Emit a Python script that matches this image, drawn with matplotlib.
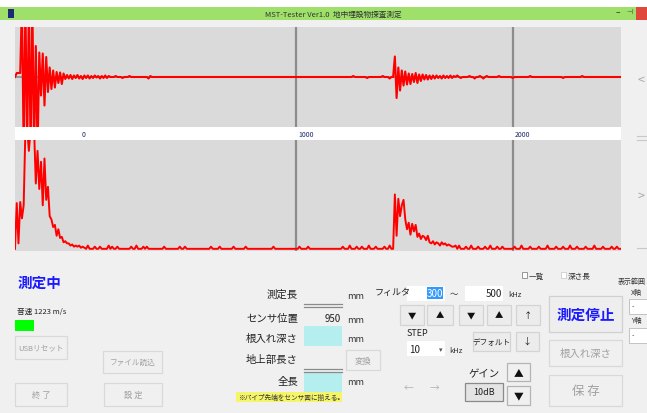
import numpy as np
import matplotlib
matplotlib.use("Agg")
import matplotlib.pyplot as plt
from matplotlib.patches import Rectangle

plt.rcParams['font.family'] = ['Noto Sans CJK JP', 'DejaVu Sans']

# sample grid of the traces (mm)
X_START, X_END, STEP = -295, 2500, 8
GRID_TICKS = [1000, 2000]
TICK_LABELS = ['0', '1000', '2000']
TICK_POS = [0, 1000, 2000]

# reflected waveform (upper trace)
upper_burst1_start = -290
upper_burst1 = [8, 8, 8, 150, -150, 150, -150, 150, -150, 150, -150, 62, -150, 49, -37,
                47, -57, 40, -30, 19, -24, 13, -21, 10, -12, 9, -14, 7, -4, 4, -3, 4, -4,
                3, -2, 4, -3, 2, -4, 3, -2, 3, -3, 2, -2, 3, -1, 2, -3, 2, -2, 3, -2, 2]
upper_burst2_start = 1456
upper_burst2 = [41, -42, 19, -27, 13, -17, 11, -15, 7, -14, 6, -10, 8, -12, 5, -8, 5, -5,
                4, -5, 3, -4, 3, -3, 3, -2, 2, -3, 3, -2, 2, -2, 3, -2, 2]
upper_blip_x = [170, 203, 235, 318, 327, 1263, 1332, 1401, 1433, 1742, 1765, 1802, 1829,
                1848, 1866, 1880, 1940, 2000, 2078, 2230, 2323]
upper_blip_y = [2, -2, 2, -3, 2, 2, -2, 2, -3, 3, -2, 2, -3, 2, -3, 2, 2, -2, 2, -2, 2]

# envelope (lower trace)
lower_burst1_start = -290
lower_burst1 = [42, 5, 43, 28, 40, 110, 110, 90, 110, 110, 110, 60, 90, 55, 80, 40, 83,
                45, 57, 30, 27, 20, 22, 12, 18, 10, 11, 6, 7, 5, 5, 3, 4, 2, 3, 2, 3, 1,
                2, 1]
lower_burst2_start = 1456
lower_burst2 = [50, 12, 46, 30, 40, 45, 27, 18, 24, 13, 23, 16, 22, 11, 14, 9, 12, 11, 8,
                12, 6, 5, 7, 4, 6, 5, 3, 6, 4, 5, 3, 4, 3, 5, 2, 3]
lower_blip_x = [41, 74, 97, 134, 157, 175, 244, 267, 295, 313, 396, 465, 493, 613, 650,
                710, 770, 894, 1018, 1060, 1217, 1249, 1281, 1309, 1341, 1373, 1410, 1433,
                1719, 1756, 1783, 1811, 1839, 1871, 1894, 1926, 1954, 2009, 2041, 2078,
                2124, 2161, 2198, 2230, 2263, 2300, 2336, 2378, 2415, 2456, 2484]
lower_blip_y = [3, 2, 2, 3, 2, 2, 2, 3, 2, 2, 2, 2, 2, 2, 2, 2, 2, 2, 2, 2, 2, 3, 2, 2,
                3, 2, 2, 3, 2, 3, 2, 3, 2, 2, 3, 2, 2, 2, 3, 2, 2, 3, 2, 2, 3, 2, 2, 3, 2,
                2, 2]


def build_trace(segments, blip_x, blip_y):
    x = np.arange(X_START, X_END + STEP, STEP)
    y = np.zeros(len(x))
    for start, vals in segments:
        i0 = int(np.searchsorted(x, start))
        y[i0:i0 + len(vals)] = vals
    for bx, by in zip(blip_x, blip_y):
        i = int(np.argmin(np.abs(x - bx)))
        y[i] = by
    return x, y


W, H = 647, 414
fig = plt.figure(figsize=(W / 100, H / 100), dpi=100)
fig.patch.set_facecolor('#f0f0f0')

ui = fig.add_axes([0, 0, 1, 1])
ui.set_xlim(0, W)
ui.set_ylim(H, 0)
ui.axis('off')


def box(x, y, w, h, fc, ec='none', lw=0.8, z=1):
    ui.add_patch(Rectangle((x, y), w, h, facecolor=fc, edgecolor=ec, linewidth=lw, zorder=z))


def txt(x, y, s, size=7.5, color='#1e1e1e', ha='left', weight='normal', z=5):
    ui.text(x, y, s, fontsize=size, color=color, ha=ha, va='center', fontweight=weight, zorder=z)


def button(x, y, w, h, s, size=7.5, color='#a0a0a0', fc='#f0f0f0', ec='#d9d9d9', weight='normal'):
    box(x, y, w, h, fc, ec, lw=0.9)
    txt(x + w / 2, y + h / 2, s, size=size, color=color, ha='center', weight=weight)


# window frame / title bar
box(0, 0, W, 8, 'white')
box(0, 8, W, 13, '#9ee06a')
box(8, 10, 6, 9, '#1c2a7a')
txt(333, 14.5, 'MST-Tester Ver1.0  地中埋設物探査測定', size=5.5, ha='center', color='#333333')
txt(618, 13, '–', size=6, ha='center', color='#333333')
txt(629, 12.5, '⊣', size=5, ha='center', color='#333333')
box(636, 8, 11, 13, '#e0483e')

# tick label strip between the two plots
box(15, 128, 606, 13, 'white')

# right side arrows
txt(641, 80, '<', size=9, ha='center', color='#a8a8a8')
txt(641, 196, '>', size=9, ha='center', color='#a8a8a8')
ui.plot([637, 647], [137, 137], color='#c8c8c8', lw=0.8)
ui.plot([637, 647], [141, 141], color='#c8c8c8', lw=0.8)
ui.plot([637, 647], [249, 249], color='#c8c8c8', lw=0.8)

# waveform plots
ax_top = fig.add_axes([15 / W, 1 - 128 / H, 606 / W, 100 / H])
ax_bot = fig.add_axes([15 / W, 1 - 252 / H, 606 / W, 111 / H])

xu, yu = build_trace([(upper_burst1_start, upper_burst1), (upper_burst2_start, upper_burst2)],
                     upper_blip_x, upper_blip_y)
xl, yl = build_trace([(lower_burst1_start, lower_burst1), (lower_burst2_start, lower_burst2)],
                     lower_blip_x, lower_blip_y)

for ax in (ax_top, ax_bot):
    ax.set_facecolor('#dadada')
    ax.set_xlim(-295, 2500)
    for g in GRID_TICKS:
        ax.axvline(g, color='#8c8c8c', lw=1.6, zorder=1)
    ax.set_xticks([])
    ax.set_yticks([])
    for sp in ax.spines.values():
        sp.set_visible(False)

ax_top.set_ylim(-100, 100)
ax_top.axhline(0, color='#8c8c8c', lw=1.2, zorder=1)
ax_top.plot(xu, yu, color='#ff0000', lw=1.5, zorder=3)

ax_bot.set_ylim(-2, 100)
ax_bot.plot(xl, yl, color='#ff0000', lw=1.4, zorder=3)

for pos, lab in zip(TICK_POS, TICK_LABELS):
    ax_top.text(pos + 12, -113, lab, fontsize=5, color='#1a2a6a', ha='left', va='center',
                clip_on=False)

# left status area
txt(18, 283, '測定中', size=10.5, color='#1a1aff', weight='bold')
txt(17, 312, '音速 1223 m/s', size=5.5, color='#222222')
box(15, 321, 19, 11, '#00ff00')
button(15, 337, 52, 23, 'USBリセット', size=5.5)
button(103, 352, 59, 22, 'ファイル読込', size=5.5)
button(15, 384, 52, 23, '終 了', size=6)
button(104, 384, 58, 23, '設 定', size=6)

# measurement fields
for yy, s in [(295, '測定長'), (319, 'センサ位置'), (339, '根入れ深さ'), (360, '地上部長さ'), (382, '全長')]:
    txt(298, yy, s, size=7.5, ha='right', color='#222222')
for yy in [297, 321, 340, 383]:
    txt(347, yy, 'mm', size=6.5, color='#333333')
for yy in [305, 308, 370, 373]:
    ui.plot([304, 342], [yy, yy], color='#8a8a8a', lw=0.9)
txt(341, 319, '950', size=7, ha='right', color='#222222')
box(304, 327, 38, 20, '#b4eeee')
box(304, 374, 38, 20, '#b4eeee')
button(346, 351, 34, 20, '変換', size=6)
box(236, 393, 106, 10, '#f5f56a')
txt(238, 398, '※パイプ先端をセンサ面に揃える。', size=4.8, color='#333333')

# filter controls
txt(375, 293, 'フィルタ', size=6.5, color='#222222')
box(407, 287, 38, 15, 'white')
box(427, 288, 16, 12, '#3399ff')
txt(443, 294, '300', size=7, ha='right', color='white')
txt(450, 295, '～', size=6, color='#333333')
box(465, 287, 38, 15, 'white')
txt(502, 294, '500', size=7, ha='right', color='#222222')
txt(508, 295, 'kHz', size=5.5, color='#333333')

for bx, s in [(400, '▼'), (427, '▲'), (459, '▼'), (487, '▲'), (516, '↑')]:
    w = 26 if bx == 427 else 24
    button(bx, 306, w, 20, s, size=6, color='#111111', fc='#ececec', ec='#d4d4d4')

txt(407, 334, 'STEP', size=6.5, color='#222222')
box(407, 342, 38, 15, 'white')
txt(409, 350, '10', size=7, color='#222222')
txt(441, 350, '▾', size=5, ha='center', color='#555555')
txt(449, 351, 'kHz', size=5.5, color='#333333')
button(473, 333, 37, 19, 'デフォルト', size=5.5, color='#222222', fc='#ececec', ec='#d4d4d4')
button(516, 333, 23, 19, '↓', size=6.5, color='#222222', fc='#ececec', ec='#d4d4d4')

txt(409, 388, '←', size=7, ha='center', color='#b0b0b0')
txt(434, 388, '→', size=7, ha='center', color='#b0b0b0')
txt(484, 374, 'ゲイン', size=7.5, ha='center', color='#222222')
button(465, 384, 38, 18, '10dB', size=6.5, color='#222222', fc='#e4e4e4', ec='#8a8a8a')
button(507, 364, 23, 18, '▲', size=7, color='#111111', fc='#f0f0f0', ec='#b4b4b4')
button(507, 387, 23, 19, '▼', size=7, color='#111111', fc='#f0f0f0', ec='#b4b4b4')

# main buttons
button(549, 297, 73, 36, '測定停止', size=10.5, color='#1a1aff', fc='#eeeeee', ec='#d0d0d0',
       weight='bold')
button(549, 341, 73, 26, '根入れ深さ', size=7.5)
button(549, 376, 73, 31, '保 存', size=9)

# display options
box(522, 273, 5, 6, 'white', '#888888', lw=0.6)
txt(529, 277, '一覧', size=5.5, color='#333333')
box(561, 273, 5, 6, 'white', '#cccccc', lw=0.6)
txt(568, 277, '深さ長', size=5.5, color='#333333')
txt(618, 282, '表示範囲', size=5, color='#333333')
txt(631, 293, 'X軸', size=5, color='#333333')
box(629, 300, 20, 15, 'white', '#bbbbbb', lw=0.6)
txt(632, 307, '-', size=5, color='#333333')
txt(631, 321, 'Y軸', size=5, color='#333333')
box(629, 329, 20, 15, 'white', '#bbbbbb', lw=0.6)
txt(632, 336, '-', size=5, color='#333333')

fig.savefig('out.png', dpi=100, facecolor=fig.get_facecolor())
